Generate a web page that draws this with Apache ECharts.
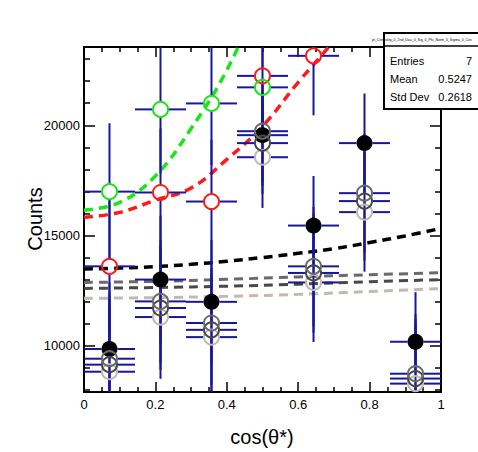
<!DOCTYPE html>
<html>
<head>
<meta charset="utf-8">
<script src="https://cdn.jsdelivr.net/npm/echarts@6/dist/echarts.min.js"></script>
<style>
html,body{margin:0;padding:0;background:#fff;}
#chart{width:478px;height:452px;}
</style>
</head>
<body>
<div id="chart"></div>
<script>
// ---- data ----
const binCenters   = [0.0714, 0.2143, 0.3571, 0.5, 0.6429, 0.7857, 0.9286];
const binHalfWidth = [0.0714, 0.0714, 0.0714, 0.0714, 0.0714, 0.0714, 0.0714];

const dataCounts  = [9850, 13000, 11990, 19550, 15450, 19190, 10180];
const dataErr     = [3000, 2900, 2800, 2300, 2250, 2250, 2250];

const grayACounts = [9410, 12010, 11030, 19730, 13600, 16920, 8730];
const grayBCounts = [9140, 11710, 10720, 19190, 13300, 16560, 8510];
const grayCCounts = [8820, 11300, 10390, 18550, 12870, 16060, 8280];
const grayErr     = [3000, 2800, 2800, 2300, 2700, 2700, 2700];

const redCounts   = [13600, 16950, 16540, 22240, 23150, null, null];
const redErr      = [3000, 2900, 2800, 2300, 2700, null, null];

const greenCounts = [16990, 20720, 20990, 21720, null, null, null];
const greenErr    = [3100, 2900, 2800, 2300, null, null, null];

// fit curves
const fitX       = [0, 0.1, 0.2, 0.3, 0.4, 0.5, 0.6, 0.7, 0.8, 0.9, 1.0];
const fitBlack   = [13480, 13520, 13590, 13690, 13830, 14000, 14190, 14400, 14680, 14980, 15320];
const fitRedX    = [0, 0.1, 0.2, 0.3, 0.4, 0.5, 0.6, 0.7, 0.8];
const fitRed     = [15820, 16050, 16600, 17150, 18450, 19950, 21950, 23850, 26100];
const fitGreenX  = [0, 0.1, 0.2, 0.3, 0.4, 0.5];
const fitGreen   = [16150, 16500, 17700, 19850, 22500, 26000];
const fitGrayX   = [0, 0.2, 0.4, 0.6, 0.8, 1.0];
const fitGrayA   = [12870, 12920, 13010, 13120, 13220, 13310];
const fitGrayB   = [12600, 12640, 12700, 12790, 12900, 13000];
const fitGrayC   = [12150, 12180, 12240, 12330, 12460, 12590];

const xTickLabels = ['0', '0.2', '0.4', '0.6', '0.8', '1'];
const yMajorTicks = [10000, 15000, 20000];
const yMinorTicks = [8000, 9000, 11000, 12000, 13000, 14000, 16000, 17000, 18000, 19000, 21000, 22000, 23000];

const statsTitle = 'pt_Centrality_0_2nd_Dau_0_Sig_0_Phi_Norm_0_Sigma_0_Cos';
const statsLabels = ['Entries', 'Mean', 'Std Dev'];
const statsValues = ['7', '0.5247', '0.2618'];

// ---- styling ----
const FONT = '"Liberation Sans", Arial, Helvetica, sans-serif';
const BLUE = '#17179b';
const COL = {grayA: '#6a6a6a', grayB: '#484848', grayC: '#c2b9b0', red: '#ff1a1a', green: '#19e619'};

function zip(xs, ys) { const out = []; for (let i = 0; i < xs.length; i++) if (ys[i] != null) out.push([xs[i], ys[i]]); return out; }

function errSeries(vals, errs, gap) {
  const data = [];
  for (let i = 0; i < binCenters.length; i++) {
    if (vals[i] != null) data.push([binCenters[i], vals[i], binHalfWidth[i], errs[i]]);
  }
  return {
    type: 'custom', xAxisIndex: 0, yAxisIndex: 0, z: 3, silent: true, animation: false,
    encode: {x: 0, y: 1},
    data: data,
    renderItem: function (params, api) {
      const cs = params.coordSys;
      const x0 = cs.x, x1 = cs.x + cs.width, y0 = cs.y, y1 = cs.y + cs.height;
      const X = api.value(0), Y = api.value(1), EX = api.value(2), EY = api.value(3);
      const c = api.coord([X, Y]);
      const L = api.coord([X - EX, Y])[0], R = api.coord([X + EX, Y])[0];
      const T = api.coord([X, Y + EY])[1], B = api.coord([X, Y - EY])[1];
      const segs = [];
      function addV(x, a, b) { a = Math.max(a, y0); b = Math.min(b, y1); if (x >= x0 && x <= x1 && b > a) segs.push([x, a, x, b]); }
      function addH(y, a, b) { a = Math.max(a, x0); b = Math.min(b, x1); if (y >= y0 && y <= y1 && b > a) segs.push([a, y, b, y]); }
      addV(c[0], T, c[1] - gap); addV(c[0], c[1] + gap, B);
      addH(c[1], L, c[0] - gap); addH(c[1], c[0] + gap, R);
      return {
        type: 'group',
        children: segs.map(s => ({type: 'line', shape: {x1: s[0], y1: s[1], x2: s[2], y2: s[3]}, style: {stroke: BLUE, lineWidth: 2}}))
      };
    }
  };
}

function markerSeries(vals, color, filled) {
  return {
    type: 'scatter', xAxisIndex: 0, yAxisIndex: 0, z: 5, silent: true, animation: false,
    symbol: 'circle', symbolSize: filled ? 16 : 15,
    itemStyle: filled ? {color: color, borderWidth: 0, opacity: 1} : {color: 'rgba(255,255,255,0)', borderColor: color, borderWidth: 2, opacity: 1},
    emphasis: {disabled: true},
    data: zip(binCenters, vals)
  };
}

function fitSeries(xs, ys, color, width) {
  return {
    type: 'line', xAxisIndex: 0, yAxisIndex: 0, z: 2, silent: true, animation: false,
    showSymbol: false, symbol: 'none', smooth: 0.4, clip: true,
    lineStyle: {color: color, width: width, type: [9, 6], cap: 'butt', opacity: 1},
    data: zip(xs, ys)
  };
}

const yRange = {min: 7900, max: 23550};
function yAxisDef(pos, ticks, len, labels) {
  return {
    type: 'value', position: pos, min: yRange.min, max: yRange.max,
    axisLine: {show: true, onZero: false, lineStyle: {color: '#000', width: 2}},
    axisTick: {show: true, inside: true, length: len, customValues: ticks, lineStyle: {color: '#000', width: 1.5}},
    axisLabel: labels ? {show: true, customValues: yMajorTicks, margin: 4, color: '#000', fontSize: 13, fontFamily: FONT,
      formatter: function (v) { return String(Math.round(v)); }} : {show: false},
    splitLine: {show: false}, minorTick: {show: false}
  };
}
function xAxisDef(pos, labels) {
  return {
    type: 'value', position: pos, min: 0, max: 1, interval: 0.2,
    axisLine: {show: true, onZero: false, lineStyle: {color: '#000', width: 2}},
    axisTick: {show: true, inside: true, length: 10, lineStyle: {color: '#000', width: 1.5}},
    minorTick: {show: true, splitNumber: 4, length: 5, lineStyle: {color: '#000', width: 1.5}},
    axisLabel: labels ? {show: true, margin: 6, color: '#000', fontSize: 13, fontFamily: FONT,
      showMinLabel: true, showMaxLabel: true,
      formatter: function (v) { return xTickLabels[Math.round(v / 0.2)]; }} : {show: false},
    splitLine: {show: false}
  };
}

const chart = echarts.init(document.getElementById('chart'), null, {renderer: 'svg', width: 478, height: 452});

const option = {
  backgroundColor: '#fff',
  animation: false,
  grid: {left: 84, right: 37, top: 47, bottom: 60, containLabel: false, outerBoundsMode: 'none'},
  xAxis: [xAxisDef('bottom', true), xAxisDef('top', false)],
  yAxis: [
    yAxisDef('left', yMajorTicks, 11, true),
    yAxisDef('left', yMinorTicks, 6, false),
    yAxisDef('right', yMajorTicks, 11, false),
    yAxisDef('right', yMinorTicks, 6, false)
  ],
  series: [
    fitSeries(fitGrayX, fitGrayC, COL.grayC, 3),
    fitSeries(fitGrayX, fitGrayB, COL.grayB, 3),
    fitSeries(fitGrayX, fitGrayA, COL.grayA, 3),
    fitSeries(fitX, fitBlack, '#000', 3.5),
    fitSeries(fitRedX, fitRed, COL.red, 3.5),
    fitSeries(fitGreenX, fitGreen, COL.green, 3.5),
    errSeries(dataCounts, dataErr, 8),
    errSeries(grayCCounts, grayErr, 8),
    errSeries(grayBCounts, grayErr, 8),
    errSeries(grayACounts, grayErr, 8),
    errSeries(redCounts, redErr, 8),
    errSeries(greenCounts, greenErr, 8),
    markerSeries(dataCounts, '#000', true),
    markerSeries(grayCCounts, COL.grayC, false),
    markerSeries(grayBCounts, COL.grayB, false),
    markerSeries(grayACounts, COL.grayA, false),
    markerSeries(redCounts, COL.red, false),
    markerSeries(greenCounts, COL.green, false)
  ],
  graphic: [
    {type: 'text', z: 50, x: 262, y: 437,
      style: {text: 'cos(θ*)', fill: '#000', font: '20px ' + FONT, textAlign: 'center', textVerticalAlign: 'middle'}},
    {type: 'text', z: 50, x: 35, y: 219, rotation: Math.PI / 2,
      style: {text: 'Counts', fill: '#000', font: '20px ' + FONT, textAlign: 'center', textVerticalAlign: 'middle'}},
    {type: 'rect', z: 100, shape: {x: 384, y: 33, width: 110, height: 76},
      style: {fill: '#fff', stroke: '#000', lineWidth: 2}},
    {type: 'line', z: 101, shape: {x1: 384, y1: 46, x2: 478, y2: 46}, style: {stroke: '#000', lineWidth: 1.5}},
    {type: 'text', z: 101, x: 372, y: 40,
      style: {text: statsTitle, fill: '#000', font: '3.5px ' + FONT, textAlign: 'left', textVerticalAlign: 'middle'}},
    {type: 'text', z: 101, x: 390, y: 61, style: {text: statsLabels[0], fill: '#000', font: '11px ' + FONT, textVerticalAlign: 'middle'}},
    {type: 'text', z: 101, x: 390, y: 79, style: {text: statsLabels[1], fill: '#000', font: '11px ' + FONT, textVerticalAlign: 'middle'}},
    {type: 'text', z: 101, x: 390, y: 97, style: {text: statsLabels[2], fill: '#000', font: '11px ' + FONT, textVerticalAlign: 'middle'}},
    {type: 'text', z: 101, x: 472, y: 61, style: {text: statsValues[0], fill: '#000', font: '11px ' + FONT, textAlign: 'right', textVerticalAlign: 'middle'}},
    {type: 'text', z: 101, x: 472, y: 79, style: {text: statsValues[1], fill: '#000', font: '11px ' + FONT, textAlign: 'right', textVerticalAlign: 'middle'}},
    {type: 'text', z: 101, x: 472, y: 97, style: {text: statsValues[2], fill: '#000', font: '11px ' + FONT, textAlign: 'right', textVerticalAlign: 'middle'}}
  ]
};
chart.setOption(option);
</script>
</body>
</html>
